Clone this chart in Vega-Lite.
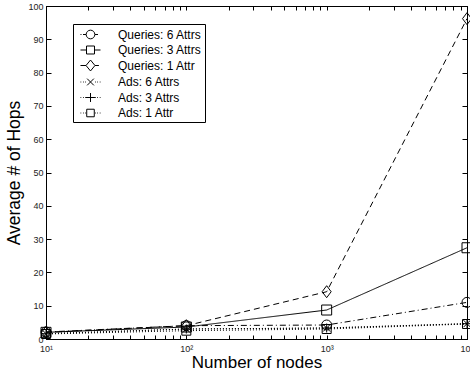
{
  "$schema": "https://vega.github.io/schema/vega-lite/v6.json",
  "width": 421,
  "height": 333,
  "autosize": {"type": "none"},
  "padding": {"left": 46, "top": 6, "right": 3, "bottom": 35},
  "background": "white",
  "config": {
    "font": "Liberation Sans",
    "view": {"stroke": "black", "strokeWidth": 1},
    "axis": {"grid": false, "domainColor": "black", "tickColor": "black", "tickWidth": 1, "labelColor": "#222", "titleColor": "black", "labelFont": "Liberation Sans", "titleFont": "Liberation Sans", "titleFontWeight": "normal"},
    "legend": {
      "title": null,
      "orient": "none",
      "legendX": 27,
      "legendY": 18,
      "strokeColor": "black",
      "fillColor": "white",
      "padding": 3,
      "rowPadding": 1.5,
      "symbolSize": 196,
      "symbolOffset": 7,
      "symbolStrokeWidth": 1,
      "symbolStrokeColor": "black",
      "symbolFillColor": "transparent",
      "labelFont": "Liberation Sans",
      "labelFontSize": 12,
      "labelColor": "black",
      "labelOffset": 20,
      "labelLimit": 200
    }
  },
  "data": {
    "values": [
      {"nodes": 10, "hops": 2.1, "series": "Queries: 6 Attrs"},
      {"nodes": 100, "hops": 4.0, "series": "Queries: 6 Attrs"},
      {"nodes": 1000, "hops": 4.2, "series": "Queries: 6 Attrs"},
      {"nodes": 10000, "hops": 11.0, "series": "Queries: 6 Attrs"},
      {"nodes": 10, "hops": 2.0, "series": "Queries: 3 Attrs"},
      {"nodes": 100, "hops": 3.6, "series": "Queries: 3 Attrs"},
      {"nodes": 1000, "hops": 8.7, "series": "Queries: 3 Attrs"},
      {"nodes": 10000, "hops": 27.4, "series": "Queries: 3 Attrs"},
      {"nodes": 10, "hops": 2.0, "series": "Queries: 1 Attr"},
      {"nodes": 100, "hops": 4.0, "series": "Queries: 1 Attr"},
      {"nodes": 1000, "hops": 14.2, "series": "Queries: 1 Attr"},
      {"nodes": 10000, "hops": 96.2, "series": "Queries: 1 Attr"},
      {"nodes": 10, "hops": 1.6, "series": "Ads: 6 Attrs"},
      {"nodes": 100, "hops": 3.0, "series": "Ads: 6 Attrs"},
      {"nodes": 1000, "hops": 3.3, "series": "Ads: 6 Attrs"},
      {"nodes": 10000, "hops": 4.6, "series": "Ads: 6 Attrs"},
      {"nodes": 10, "hops": 1.6, "series": "Ads: 3 Attrs"},
      {"nodes": 100, "hops": 3.0, "series": "Ads: 3 Attrs"},
      {"nodes": 1000, "hops": 3.3, "series": "Ads: 3 Attrs"},
      {"nodes": 10000, "hops": 4.6, "series": "Ads: 3 Attrs"},
      {"nodes": 10, "hops": 1.5, "series": "Ads: 1 Attr"},
      {"nodes": 100, "hops": 2.5, "series": "Ads: 1 Attr"},
      {"nodes": 1000, "hops": 3.0, "series": "Ads: 1 Attr"},
      {"nodes": 10000, "hops": 4.5, "series": "Ads: 1 Attr"}
    ]
  },
  "resolve": {"axis": {"x": "independent", "y": "independent"}, "scale": {"shape": "independent"}, "legend": {"shape": "independent"}},
  "layer": [
    {
      "mark": {"type": "line", "color": "black", "strokeWidth": 1, "clip": false},
      "encoding": {
        "x": {
          "field": "nodes", "type": "quantitative",
          "scale": {"type": "log", "domain": [10, 10000], "nice": false},
          "axis": {
            "orient": "bottom",
            "values": [10,20,30,40,50,60,70,80,90,100,200,300,400,500,600,700,800,900,1000,2000,3000,4000,5000,6000,7000,8000,9000,10000],
            "labelExpr": "datum.value == 10 ? '10¹' : datum.value == 100 ? '10²' : datum.value == 1000 ? '10³' : datum.value == 10000 ? '10⁴' : ''",
            "labelFlush": false, "labelOverlap": false, "labelBound": false,
            "labelFontSize": 9, "labelPadding": 9,
            "tickSize": -4,
            "title": "Number of nodes", "titleFontSize": 17, "titlePadding": 1
          }
        },
        "y": {
          "field": "hops", "type": "quantitative",
          "scale": {"domain": [0, 100], "nice": false},
          "axis": {
            "orient": "left",
            "values": [0,10,20,30,40,50,60,70,80,90,100],
            "labelFontSize": 9, "labelPadding": 8, "tickSize": -5,
            "title": "Average # of Hops", "titleFontSize": 17.5, "titlePadding": 4
          }
        },
        "strokeDash": {
          "field": "series", "type": "nominal",
          "scale": {
            "domain": ["Queries: 6 Attrs", "Queries: 3 Attrs", "Queries: 1 Attr", "Ads: 6 Attrs", "Ads: 3 Attrs", "Ads: 1 Attr"],
            "range": [[6,3,1,3], [1,0], [6,4], [1,2], [1,2], [1,2]]
          },
          "legend": null
        }
      }
    },
    {
      "mark": {"type": "point", "filled": false, "color": "black", "strokeWidth": 1, "opacity": 1, "size": 100, "clip": false},
      "encoding": {
        "x": {
          "field": "nodes", "type": "quantitative",
          "axis": {
            "orient": "top", "labels": false, "title": null,
            "values": [10,20,30,40,50,60,70,80,90,100,200,300,400,500,600,700,800,900,1000,2000,3000,4000,5000,6000,7000,8000,9000,10000],
            "tickSize": -4
          }
        },
        "y": {
          "field": "hops", "type": "quantitative",
          "axis": {"orient": "right", "labels": false, "title": null, "values": [0,10,20,30,40,50,60,70,80,90,100], "tickSize": -5}
        },
        "shape": {
          "field": "series", "type": "nominal",
          "scale": {
            "domain": ["Queries: 6 Attrs", "Queries: 3 Attrs", "Queries: 1 Attr", "Ads: 6 Attrs", "Ads: 3 Attrs", "Ads: 1 Attr"],
            "range": ["circle", "square", "M0,-1.2L0.9,0L0,1.2L-0.9,0Z", "M-0.7,-0.7L0.7,0.7M-0.7,0.7L0.7,-0.7", "M-0.9,0H0.9M0,-0.9V0.9", "M-0.9,-0.9H0.9V0.9H-0.9Z"]
          },
          "legend": null
        }
      }
    },
    {
      "transform": [{"filter": "datum.hops < 0"}],
      "mark": {"type": "point", "filled": false, "color": "black", "strokeWidth": 1, "opacity": 1, "size": 196, "clip": false},
      "encoding": {
        "x": {"field": "nodes", "type": "quantitative", "axis": null},
        "y": {"field": "hops", "type": "quantitative", "axis": null},
        "shape": {
          "field": "series", "type": "nominal",
          "scale": {
            "domain": ["Queries: 6 Attrs", "Queries: 3 Attrs", "Queries: 1 Attr", "Ads: 6 Attrs", "Ads: 3 Attrs", "Ads: 1 Attr"],
            "range": [
              "M-1.43,0H-1.29M-1.07,0H-0.64M0.64,0H1.07M0.62,0A0.62,0.62 0 1,1 -0.62,0A0.62,0.62 0 1,1 0.62,0",
              "M-1.43,0H-0.57M0.57,0H1.43M-0.57,-0.57H0.57V0.57H-0.57Z",
              "M-1.43,0H-0.64M0.64,0H1.2M0,-0.78L0.64,0L0,0.78L-0.64,0Z",
              "M-1.43,0H-1.32M-1.07,0H-0.96M-0.77,0H-0.66M0.66,0H0.77M0.96,0H1.07M1.32,0H1.43M-0.48,-0.48L0.48,0.48M-0.48,0.48L0.48,-0.48",
              "M-1.43,0H-1.32M-1.07,0H-0.96M-0.77,0H-0.66M0.66,0H0.77M0.96,0H1.07M1.32,0H1.43M-0.64,0H0.64M0,-0.64V0.64",
              "M-1.43,0H-1.32M-1.07,0H-0.96M-0.77,0H-0.66M0.66,0H0.77M0.96,0H1.07M1.32,0H1.43M-0.54,-0.54H0.54V0.54H-0.54Z"
            ]
          },
          "legend": {}
        }
      }
    }
  ]
}
